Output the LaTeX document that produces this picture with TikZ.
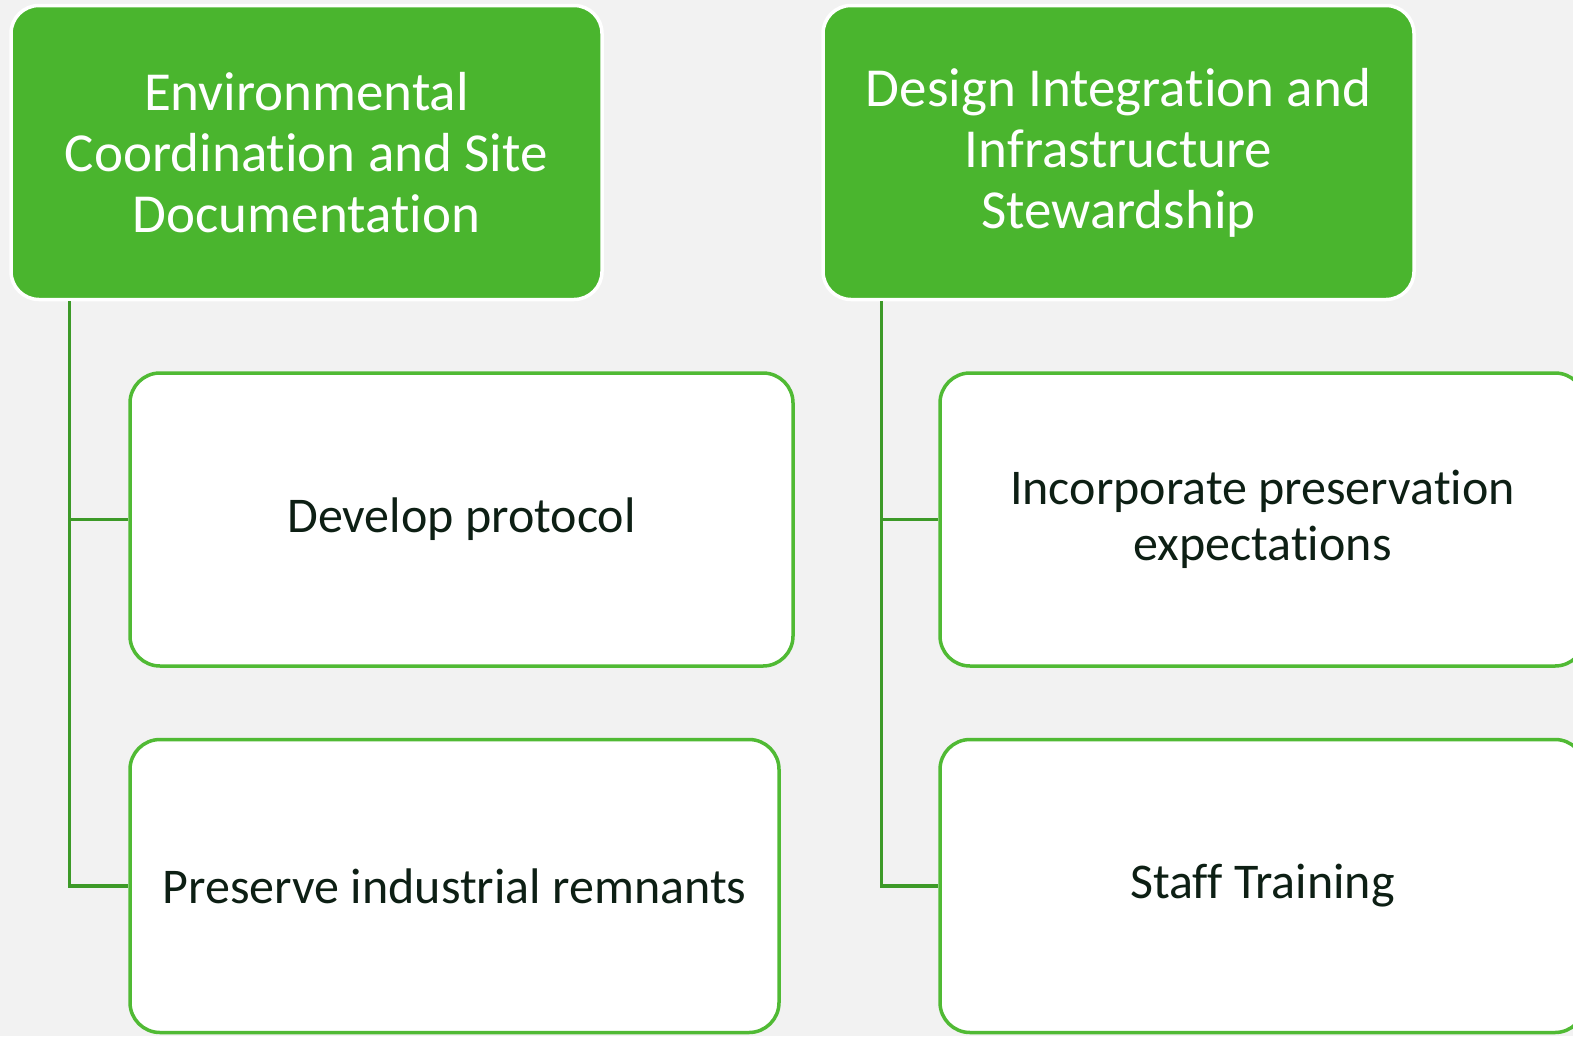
\documentclass[tikz,border=0pt]{standalone}
\usepackage{fontspec}
\setmainfont{Carlito}[Ligatures=NoCommon]
\usetikzlibrary{positioning,shapes}
\definecolor{bgGray}{RGB}{242,242,242}
\definecolor{headGreen}{RGB}{74,181,46}
\definecolor{lineGreen}{RGB}{61,154,40}
\definecolor{boxGreen}{RGB}{80,186,52}
\definecolor{darkText}{RGB}{13,31,20}

\begin{document}
\begin{tikzpicture}[x=1pt,y=-1pt]
          %% FOND
          \clip (0,0) rectangle (1573,1036);
          \fill[bgGray] (0,0) rectangle (1573,1036);

          \tikzstyle{head}=[draw=white,line width=3.5pt,fill=headGreen,rounded corners=28pt,
                            minimum width=591pt,minimum height=294pt,align=center,
                            text=white,font=\fontsize{55}{61}\selectfont]
          \tikzstyle{task}=[draw=boxGreen,line width=3.5pt,fill=white,rounded corners=30pt,
                            minimum height=293pt,align=center,
                            text=darkText,font=\fontsize{50}{56}\selectfont]
          \tikzstyle{conn}=[draw=lineGreen,line width=3.5pt]

          % premiere colonne
          \node[head] (H1) at (306.5,152.5) {Environmental\\Coordination and Site\\Documentation};
          \node[task,minimum width=663pt] (T1) at (461.5,519.5) {Develop protocol};
          \node[task,minimum width=649pt] (T2) at (454.5,886) {Preserve industrial remnants};

          % deuxieme colonne
          \node[head] (H2) at (1118.5,152.5) {Design Integration and\\Infrastructure\\Stewardship};
          \node[task,minimum width=645pt] (T3) at (1262.5,519.5) {Incorporate preservation\\expectations};
          \node[task,minimum width=645pt] (T4) at (1262.5,886) {Staff Training};

          % liens
          \path[conn] ([xshift=60pt]H1.south west) |- (T1.west);
          \path[conn] ([xshift=60pt]H1.south west) |- (T2.west);
          \path[conn] ([xshift=60pt]H2.south west) |- (T3.west);
          \path[conn] ([xshift=60pt]H2.south west) |- (T4.west);
\end{tikzpicture}
\end{document}
